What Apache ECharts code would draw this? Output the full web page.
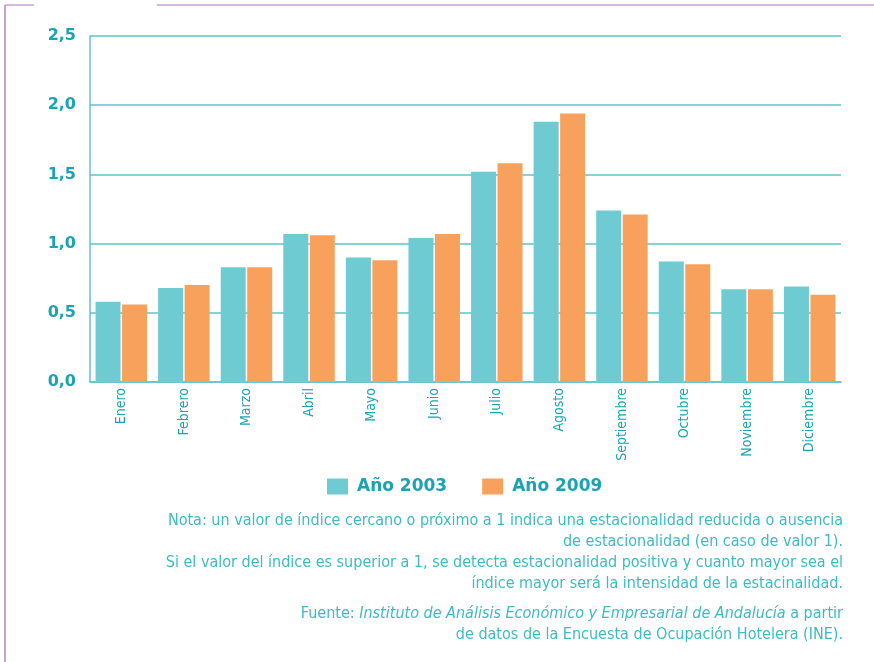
<!DOCTYPE html>
<html>
<head>
<meta charset="utf-8">
<script src="https://cdn.jsdelivr.net/npm/echarts@6/dist/echarts.min.js"></script>
<style>
html,body{margin:0;padding:0;background:#fff;}
#chart{width:874px;height:662px;}
</style>
</head>
<body>
<div id="chart"></div>
<script>
const categories = ['Enero','Febrero','Marzo','Abril','Mayo','Junio','Julio','Agosto','Septiembre','Octubre','Noviembre','Diciembre'];
const serie2003 = [0.58,0.68,0.83,1.07,0.90,1.04,1.52,1.88,1.24,0.87,0.67,0.69];
const serie2009 = [0.56,0.70,0.83,1.06,0.88,1.07,1.58,1.94,1.21,0.85,0.67,0.63];
const seriesNames = ['Año 2003','Año 2009'];
const yTicks = [0,0.5,1,1.5,2,2.5];

const teal = '#6ECBD2';
const orange = '#F8A15C';
const txt = '#1AA3B4';
const noteColor = '#3BBBC6';
const gridColor = '#5FC3CB';
const purple = '#A066B0';
const condensed = '"Liberation Sans Narrow","DejaVu Sans Condensed","Roboto",sans-serif';
const wide = '"DejaVu Sans",sans-serif';

const chart = echarts.init(document.getElementById('chart'), null, {renderer:'canvas'});

const noteLines = [
  {y:523, t:'Nota: un valor de índice cercano o próximo a 1 indica una estacionalidad reducida o ausencia'},
  {y:544, t:'de estacionalidad (en caso de valor 1).'},
  {y:565, t:'Si el valor del índice es superior a 1, se detecta estacionalidad positiva y cuanto mayor sea el'},
  {y:586, t:'índice mayor será la intensidad de la estacinalidad.'},
  {y:616, t:'Fuente: {i|Instituto de Análisis Económico y Empresarial de Andalucía} a partir'},
  {y:637, t:'de datos de la Encuesta de Ocupación Hotelera (INE).'}
];

const graphics = [
  {type:'line', shape:{x1:5,y1:5,x2:5,y2:662}, style:{stroke:purple,lineWidth:1.2}, silent:true},
  {type:'line', shape:{x1:5,y1:5,x2:34,y2:5}, style:{stroke:'#C9A3D3',lineWidth:1.5}, silent:true},
  {type:'line', shape:{x1:157,y1:5,x2:874,y2:5}, style:{stroke:'#C9A3D3',lineWidth:1.5}, silent:true}
];
noteLines.forEach(l => {
  graphics.push({
    type:'text', right: 874-843, top: l.y-10, silent:true,
    style:{
      text:l.t, fill:noteColor, font:'16px '+condensed, textAlign:'right',
      rich:{ i:{ fontStyle:'italic', fontSize:16, fontFamily:condensed, fill:noteColor } }
    }
  });
});

chart.setOption({
  animation:false,
  backgroundColor:'#fff',
  grid:{left:90,right:33,top:36,bottom:280,containLabel:false},
  legend:{
    data:seriesNames,
    left:327, top:478, padding:0, itemWidth:21, itemHeight:16, itemGap:35,
    icon:'rect',
    textStyle:{color:txt,fontSize:17,fontWeight:'bold',fontFamily:wide,padding:[0,0,0,4]}
  },
  xAxis:{
    type:'category', data:categories,
    axisLine:{lineStyle:{color:gridColor,width:1.5}},
    axisTick:{show:false},
    axisLabel:{rotate:90, interval:0, color:txt, fontSize:14, fontFamily:condensed, margin:6}
  },
  yAxis:{
    type:'value', min:0, max:2.5, interval:0.5,
    axisLine:{show:true, lineStyle:{color:gridColor,width:1.5}},
    axisTick:{show:false},
    splitLine:{lineStyle:{color:gridColor,width:1.5}},
    axisLabel:{
      color:txt, fontSize:16, fontWeight:'bold', margin:14,
      fontFamily:wide,
      formatter:v => yTicks.indexOf(v) >= 0 ? v.toFixed(1).replace('.',',') : ''
    }
  },
  series:[
    {name:seriesNames[0], type:'bar', data:serie2003, itemStyle:{color:teal}, barWidth:25, barGap:'6%'},
    {name:seriesNames[1], type:'bar', data:serie2009, itemStyle:{color:orange}, barWidth:25, barGap:'6%'}
  ],
  graphic:graphics
});
</script>
</body>
</html>
